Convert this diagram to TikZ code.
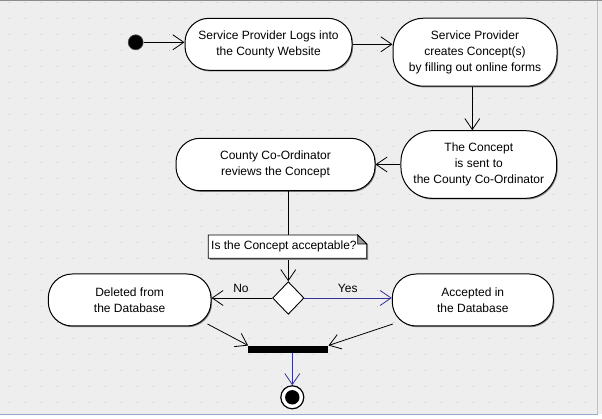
\documentclass[tikz,border=0pt]{standalone}
\usepackage{fontspec}
\setmainfont{Liberation Sans}
\usetikzlibrary{arrows.meta,shapes.geometric,shadows,calc}
\definecolor{bgc}{RGB}{238,238,238}
\definecolor{dotc}{RGB}{195,195,195}
\definecolor{blu}{RGB}{51,51,153}
\definecolor{edgeblue}{RGB}{150,170,205}
\begin{document}
\begin{tikzpicture}[x=1pt,y=-1pt,
  txt/.style={font=\fontsize{12}{16}\selectfont},
  act/.style={txt, draw=black, line width=1pt, fill=white, rounded corners=24pt,
    align=center, inner sep=0pt,
    drop shadow={shadow xshift=1pt,shadow yshift=-1.2pt,fill=black!50,opacity=1}},
  tall/.style={rounded corners=31pt},
  arr/.style={line width=0.8pt, -{Straight Barb[length=11pt,width=15pt,line width=0.8pt]}}
]
\useasboundingbox (0,0) rectangle (602,419);
\fill[bgc] (0,0) rectangle (602,419);
\fill[white] (0,414) rectangle (602,419);
\foreach \i in {0,...,36}{
  \foreach \j in {0,...,25}{
    \fill[dotc] (9.1+16*\i,2.1+16*\j) rectangle ++(1.2,1.2);
  }
}
\draw[black!45, line width=1.2pt] (0,0.6) -- (602,0.6);
\draw[black!25, line width=0.8pt] (597.5,1) -- (597.5,414);
\draw[edgeblue, line width=1pt] (0,414) -- (598,414);

% nodes
\node[circle, fill=black, draw=black!70, line width=0.6pt, minimum size=15pt, inner sep=0] (S) at (135.7,42.3) {};
\node[act, minimum width=167pt, minimum height=52pt] (A) at (268.5,44.3)
  {Service Provider Logs into\\the County Website};
\node[act, tall, minimum width=164pt, minimum height=68pt] (B) at (475,52.2)
  {Service Provider\\creates Concept(s)\\by filling out online forms};
\node[act, tall, minimum width=155.7pt, minimum height=67.6pt] (C) at (478.8,164.5)
  {The Concept\\is sent to\\the County Co-Ordinator};
\node[act, minimum width=199pt, minimum height=52.4pt] (D) at (275.5,164.5)
  {County Co-Ordinator\\reviews the Concept};
\node[diamond, draw=black, fill=white, line width=0.9pt, minimum width=31.4pt, minimum height=32.6pt, inner sep=0] (K) at (288.3,298) {};
\node[act, minimum width=162.7pt, minimum height=52pt] (E) at (129.65,300)
  {Deleted from\\the Database};
\node[act, minimum width=161pt, minimum height=52pt] (F) at (472.8,300)
  {Accepted in\\ the Database};
\node[fill=black, minimum width=80pt, minimum height=7.3pt, inner sep=0] (Bar) at (288.3,349.35) {};
\node[circle, draw=black, fill=white, line width=1.2pt, minimum size=23pt, inner sep=0] (End) at (292.3,397.3) {};
\fill[black] (End.center) circle (7.2);
\coordinate (bcx) at (472.3,0);

% connectors
\draw[arr] (S) -- (A.west |- S);
\draw[arr] (A.east) -- (A.east -| B.west);
\draw[arr] (B.south -| bcx) -- (C.north -| bcx);
\draw[arr] (C.west) -- (C.west -| D.east);
\draw[arr] (D.south -| K.north) -- (K.north);

% note
\coordinate (N1) at (208.3,235);
\coordinate (N2) at (366.7,258.3);
\fill[black!45] ($(N1)+(1.5,1.5)$) -- ($(N1-|N2)+(-7.5,1.5)$) -- ($(N1-|N2)+(1.5,10)$) -- ($(N2)+(1.5,1.5)$) -- ($(N1|-N2)+(1.5,1.5)$) -- cycle;
\draw[black, fill=white, line width=0.8pt] (N1) -- ($(N1-|N2)+(-9,0)$) -- ($(N1-|N2)+(0,9)$) -- (N2) -- (N1|-N2) -- cycle;
\draw[black, fill=black!40, line width=0.8pt] ($(N1-|N2)+(-9,0)$) -- ($(N1-|N2)+(0,9)$) -- ($(N1-|N2)+(-9,9)$) -- cycle;
\node[txt, anchor=west, inner sep=0] (Ntext) at (211,246.7) {Is the Concept acceptable?};

\draw[arr] (K.west) -- (K.west -| E.east);
\draw[arr, blu] (K.east) -- (K.east -| F.west);
\node[txt, inner sep=0] (lno) at (241,288.3) {No};
\node[txt, inner sep=0] (lyes) at (347.7,288) {Yes};

\draw[arr] ($(E.east)+(-4,24)$) -- (Bar.north west);
\draw[arr] ($(F.west)+(1,24)$) -- (Bar.north east);
\draw[arr, blu] (Bar.south -| End.north) -- (End.north);
\end{tikzpicture}
\end{document}
